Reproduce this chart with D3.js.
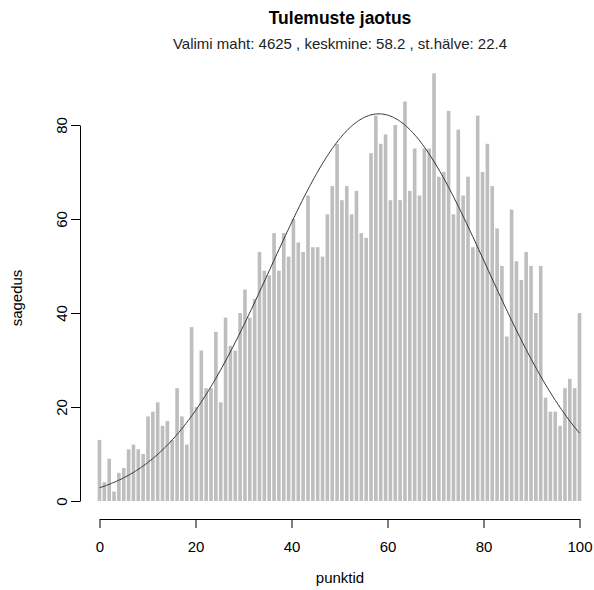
<!DOCTYPE html>
<html>
<head>
<meta charset="utf-8">
<script src="https://cdn.jsdelivr.net/npm/d3@7/dist/d3.min.js"></script>
<style>
  body { margin: 0; background: #fff; }
  text { font-family: "Liberation Sans", Arial, sans-serif; }
</style>
</head>
<body>
<script>
var width = 594;
var height = 590;

// andmed: punktide jaotus (sagedused punktidele 1..100)
var punktid = d3.range(1, 101);
var sagedus = [
    13, 4, 9, 2, 6, 7, 11, 12, 11, 10,
    18, 19, 21, 16, 17, 13, 24, 18, 12, 37,
    20, 32, 24, 24, 36, 21, 39, 33, 32, 40,
    45, 39, 43, 53, 49, 48, 57, 49, 57, 52,
    60, 55, 53, 65, 54, 54, 52, 61, 67, 76,
    64, 67, 61, 66, 57, 56, 74, 82, 76, 78,
    64, 80, 64, 85, 66, 75, 65, 75, 75, 91,
    69, 70, 83, 61, 79, 65, 69, 54, 82, 70,
    76, 67, 58, 50, 35, 62, 51, 47, 53, 50,
    40, 50, 22, 19, 19, 16, 24, 26, 24, 40
];
var xTicks = [0, 20, 40, 60, 80, 100];
var yTicks = [0, 20, 40, 60, 80];

// valimi näitajad (alapealkirjast)
var maht = 4625;
var keskmine = 58.2;
var sthalve = 22.4;

var svg = d3.select('body').append('svg').attr('width', width).attr('height', height);

var x = d3.scaleLinear().domain([0, 100]).range([99.5, 579.5]);
var y = d3.scaleLinear().domain([0, 80]).range([501, 125]);
var xBar = d3.scalePoint().domain(punktid).range(x.range());
var barW = 3.6;

// tulbad
svg.append('g')
    .selectAll('rect')
    .data(punktid)
    .enter()
    .append('rect')
    .attr('x', function (d) { return xBar(d) - barW / 2; })
    .attr('y', function (d, i) { return y(sagedus[i]); })
    .attr('width', barW)
    .attr('height', function (d, i) { return y(0) - y(sagedus[i]); })
    .attr('fill', '#bebebe');

// normaaljaotuse kõver
var curveX = d3.range(0, 100.25, 0.25);
var dnorm = function (v) {
    return maht / (sthalve * Math.sqrt(2 * Math.PI)) *
        Math.exp(-Math.pow(v - keskmine, 2) / (2 * sthalve * sthalve));
};
var line = d3.line()
    .x(function (d) { return x(d); })
    .y(function (d) { return y(dnorm(d)); });
svg.append('path')
    .attr('d', line(curveX))
    .attr('fill', 'none')
    .attr('stroke', '#333')
    .attr('stroke-width', 1);

// teljed
var xAxis = svg.append('g')
    .attr('transform', 'translate(0,519)')
    .call(d3.axisBottom(x).tickValues(xTicks).tickSize(9).tickSizeOuter(0).tickPadding(13));
xAxis.selectAll('text').attr('font-size', 15).attr('fill', '#000');

var yAxis = svg.append('g')
    .attr('transform', 'translate(80,0)')
    .call(d3.axisLeft(y).tickValues(yTicks).tickSize(9).tickSizeOuter(0));
yAxis.selectAll('text')
    .attr('x', 0)
    .attr('y', 0)
    .attr('dy', 0)
    .attr('text-anchor', 'middle')
    .attr('transform', 'translate(-13,0) rotate(-90)')
    .attr('font-size', 15)
    .attr('fill', '#000');
svg.selectAll('.domain, .tick line').attr('stroke', '#000');
svg.selectAll('.tick text').attr('font-family', '"Liberation Sans", Arial, sans-serif');

// pealkirjad
svg.append('text')
    .attr('x', 340).attr('y', 24)
    .attr('text-anchor', 'middle')
    .attr('font-size', 17.5).attr('font-weight', 'bold')
    .text('Tulemuste jaotus');
svg.append('text')
    .attr('x', 340).attr('y', 49)
    .attr('text-anchor', 'middle')
    .attr('font-size', 15)
    .attr('fill', '#222')
    .text('Valimi maht: ' + maht + ' , keskmine: ' + keskmine + ' , st.hälve: ' + sthalve);
svg.append('text')
    .attr('x', 340).attr('y', 583)
    .attr('text-anchor', 'middle')
    .attr('font-size', 15)
    .text('punktid');
svg.append('text')
    .attr('transform', 'translate(22,298) rotate(-90)')
    .attr('text-anchor', 'middle')
    .attr('font-size', 15)
    .text('sagedus');
</script>
</body>
</html>
